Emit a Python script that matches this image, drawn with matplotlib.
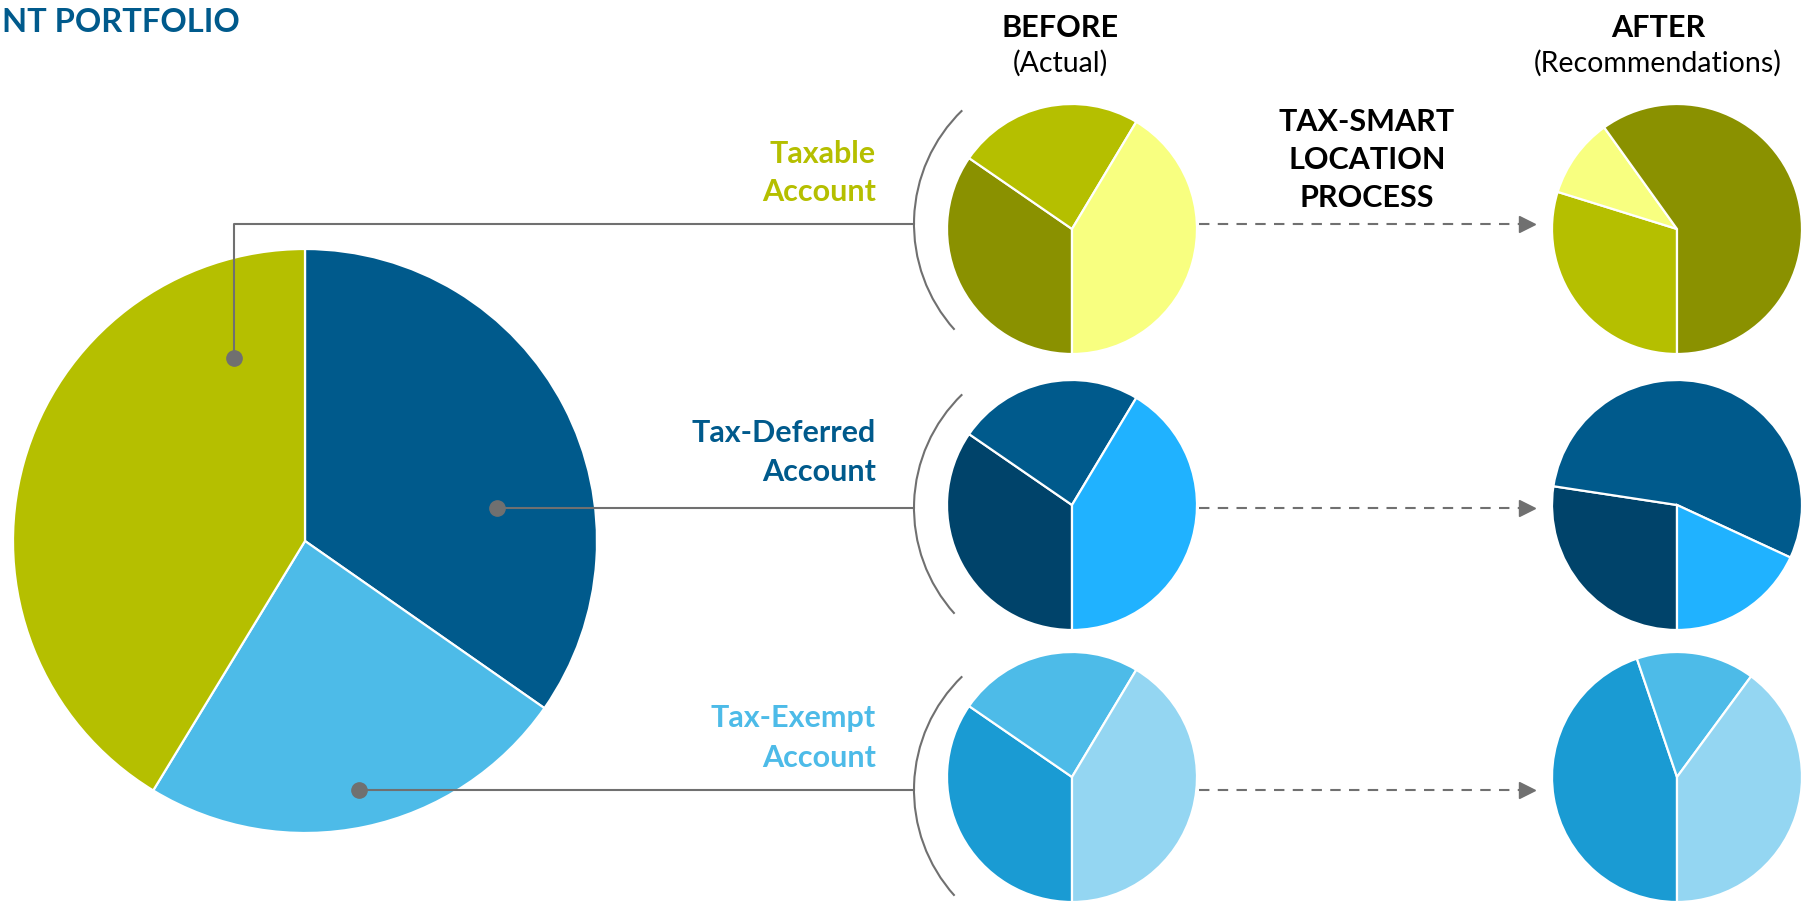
import matplotlib.pyplot as plt
from matplotlib.patches import Arc

plt.rcParams['font.family'] = ['Lato', 'DejaVu Sans']

W, H = 1812, 905

# overall portfolio split, clockwise from 12 o'clock
portfolio_accounts = ['Tax-Deferred', 'Tax-Exempt', 'Taxable']
portfolio_share = [34.7, 24.0, 41.3]

# asset mix inside each account, clockwise from 6 o'clock
taxable_before = [34.6, 24.0, 41.4]        # dark, mid, light
taxable_after = [29.8, 10.3, 59.9]         # mid, light, dark
deferred_before = [34.6, 24.0, 41.4]       # dark, mid, light
deferred_after = [27.4, 54.5, 18.1]        # dark, mid, light
exempt_before = [34.6, 24.0, 41.4]         # dark, mid, light
exempt_after = [44.8, 15.3, 39.9]          # dark, mid, light

account_names = ['Taxable', 'Tax-Deferred', 'Tax-Exempt']
process_lines = ['TAX-SMART', 'LOCATION', 'PROCESS']

# colours
olive_dk, olive, olive_lt = '#8A9100', '#B5BF00', '#F8FF80'
navy_dk, navy, navy_lt = '#00436A', '#005A8C', '#20B2FF'
sky_dk, sky, sky_lt = '#1A9BD3', '#4DBBE8', '#94D6F2'
grey = '#707070'


def Y(y):
    # page pixels (top-down) -> axes coords (bottom-up)
    return H - y


fig = plt.figure(figsize=(W / 100, H / 100), dpi=100)
ax = fig.add_axes([0, 0, 1, 1])

wp = dict(edgecolor='white', linewidth=1.6)

# big portfolio pie
ax.pie(portfolio_share, colors=[navy, sky, olive], startangle=90,
       counterclock=False, center=(305, Y(541)), radius=292,
       frame=True, wedgeprops=wp)

# before / after pies
small = [
    (taxable_before, [olive_dk, olive, olive_lt], taxable_after, [olive, olive_lt, olive_dk], 229),
    (deferred_before, [navy_dk, navy, navy_lt], deferred_after, [navy_dk, navy, navy_lt], 505),
    (exempt_before, [sky_dk, sky, sky_lt], exempt_after, [sky_dk, sky, sky_lt], 777),
]
for bvals, bcols, avals, acols, cy in small:
    ax.pie(bvals, colors=bcols, startangle=-90, counterclock=False,
           center=(1072, Y(cy)), radius=125, frame=True, wedgeprops=wp)
    ax.pie(avals, colors=acols, startangle=-90, counterclock=False,
           center=(1677, Y(cy)), radius=125, frame=True, wedgeprops=wp)

# connectors from the big pie to the brackets
line_y = [224, 508, 790]
ax.plot([234, 234, 914], [Y(358), Y(224), Y(224)], color=grey, lw=1.5, zorder=5)
ax.plot(234, Y(358), 'o', ms=11, color=grey, zorder=6)
ax.plot([497, 914], [Y(508), Y(508)], color=grey, lw=1.5, zorder=5)
ax.plot(497, Y(508), 'o', ms=11, color=grey, zorder=6)
ax.plot([359, 914], [Y(790), Y(790)], color=grey, lw=1.5, zorder=5)
ax.plot(359, Y(790), 'o', ms=11, color=grey, zorder=6)

for ly in line_y:
    ax.add_patch(Arc((1072, Y(ly)), 316, 316, theta1=134, theta2=222,
                     color=grey, lw=1.5))
    ax.plot([1199, 1520], [Y(ly), Y(ly)], color=grey, lw=1.5,
            ls=(0, (5, 4)))
    ax.plot(1527, Y(ly), marker='>', ms=11, color=grey)

# account labels, two lines each
label_cols = [olive, navy, sky]
label_base = [(163, 201), (442, 481), (727, 767)]
for name, col, (b1, b2) in zip(account_names, label_cols, label_base):
    ax.text(876, Y(b1), name, color=col, fontsize=22, fontweight='bold',
            ha='right', va='baseline')
    ax.text(876, Y(b2), 'Account', color=col, fontsize=22, fontweight='bold',
            ha='right', va='baseline')

# headings
ax.text(2, Y(32), 'NT PORTFOLIO', color=navy, fontsize=23.5,
        fontweight='bold', ha='left', va='baseline')
ax.text(1060, Y(37), 'BEFORE', color='black', fontsize=22,
        fontweight='bold', ha='center', va='baseline')
ax.text(1060, Y(72), '(Actual)', color='black', fontsize=20.5,
        ha='center', va='baseline')
ax.text(1658, Y(37), 'AFTER', color='black', fontsize=22,
        fontweight='bold', ha='center', va='baseline')
ax.text(1658, Y(72), '(Recommendations)', color='black', fontsize=20.5,
        ha='center', va='baseline')
for txt, by in zip(process_lines, [131, 169, 207]):
    ax.text(1367, Y(by), txt, color='black', fontsize=22,
            fontweight='bold', ha='center', va='baseline')

ax.set_xlim(0, W)
ax.set_ylim(0, H)
ax.set_aspect('equal')
ax.axis('off')

fig.savefig('out.png', dpi=100, facecolor='white')
